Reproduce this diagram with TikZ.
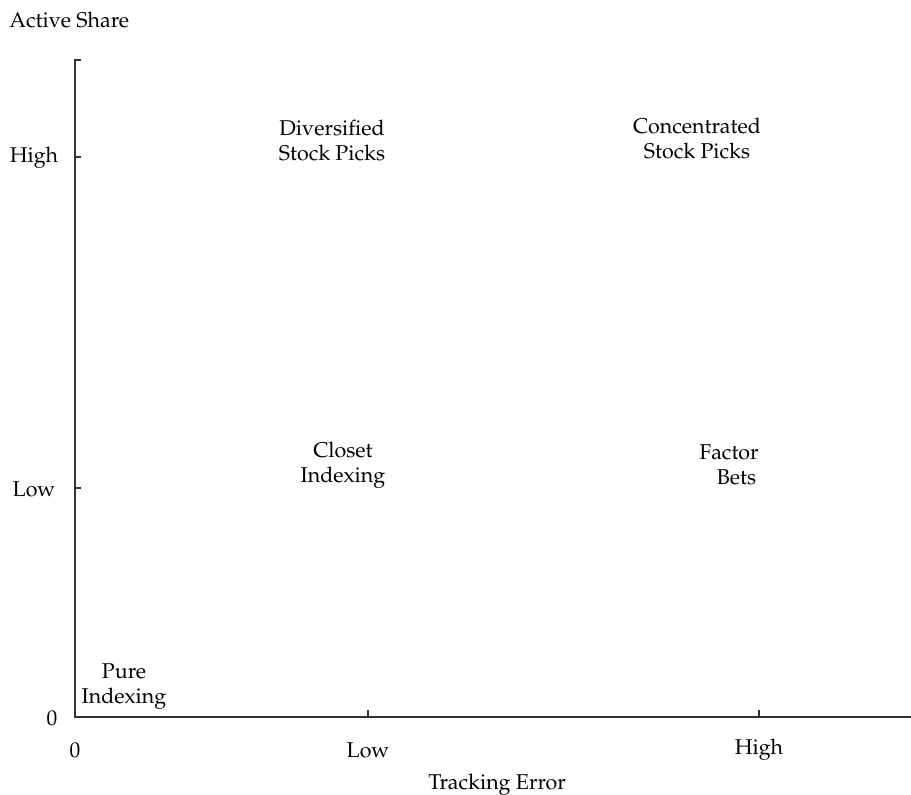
\documentclass[tikz,border=0pt]{standalone}
\usepackage[T1]{fontenc}
\usepackage{mathpazo}
\begin{document}
\begin{tikzpicture}[x=0.5pt,y=-0.5pt,
  lbl/.style={font=\fontsize{10.7}{12.5}\selectfont, inner sep=0pt, align=center},
  axisline/.style={line width=0.6pt, black!80}]
\useasboundingbox (0,0) rectangle (911,795);
% axes
\coordinate (top) at (75,60);
\coordinate (orig) at (75,717);
\coordinate (right) at (911,717);
\draw[axisline] (81,60) -- (top) -- (orig) -- (right);
% y ticks
\coordinate (yh) at (75,157);
\coordinate (yl) at (75,488);
\draw[axisline] (yh) -- ++(6,0);
\draw[axisline] (yl) -- ++(6,0);
% x ticks
\coordinate (xl) at (368,717);
\coordinate (xh) at (759,717);
\draw[axisline] (xl) -- ++(0,-7);
\draw[axisline] (xh) -- ++(0,-7);
% axis labels
\node[lbl, anchor=west] (as) at (9,20) {Active Share};
\node[lbl] (yhl) at (34,158) {High};
\node[lbl] (yll) at (34,489) {Low};
\node[lbl] (y0) at (52,718) {0};
\node[lbl] (x0) at (75,750) {0};
\node[lbl] (xll) at (368,750) {Low};
\node[lbl] (xhl) at (759,750) {High};
\node[lbl] (te) at (497,785) {Tracking Error};
% quadrant labels
\node[lbl] (div) at (332,140) {Diversified\\Stock Picks};
\node[lbl] (con) at (697,138) {Concentrated\\Stock Picks};
\node[lbl] (clo) at (343,465) {Closet\\Indexing};
\node[lbl] (fac) at (729,465) {Factor\\\hspace*{7.5pt}Bets};
\node[lbl] (pur) at (124,687) {Pure\\Indexing};
\end{tikzpicture}
\end{document}
